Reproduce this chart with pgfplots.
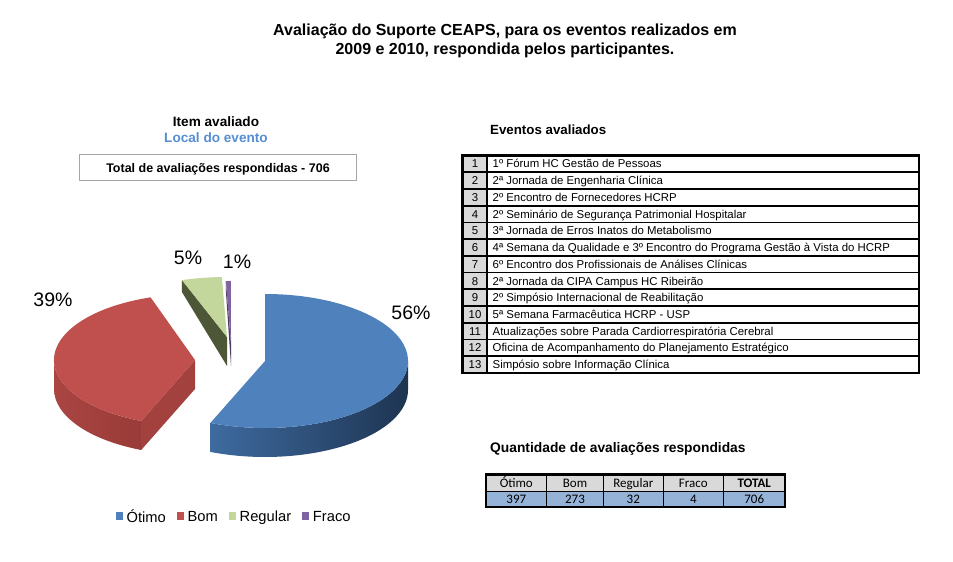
\documentclass[border=0pt]{standalone}
\usepackage{pgfplots}
\usepackage{pgfplotstable}
\usepackage{fontspec}
\pgfplotsset{compat=1.18}
\setmainfont{Liberation Sans}
\newfontfamily\calibri{Carlito}
\newcommand\fs[1]{\fontsize{#1}{#1}\selectfont}

\definecolor{otimo}{HTML}{4F81BD}
\definecolor{otimoL}{HTML}{3E6BA0}
\definecolor{otimoR}{HTML}{1E3451}
\definecolor{bom}{HTML}{C0504D}
\definecolor{bomL}{HTML}{AA4542}
\definecolor{bomR}{HTML}{8E3532}
\definecolor{bomCut}{HTML}{A3413E}
\definecolor{regular}{HTML}{C3D69B}
\definecolor{regularCut}{HTML}{4D5737}
\definecolor{fraco}{HTML}{8064A2}
\definecolor{fracoCut}{HTML}{4B3B61}
\definecolor{titleblue}{HTML}{558ED5}
\definecolor{cellgray}{HTML}{D9D9D9}
\definecolor{cellblue}{HTML}{95B3D7}

% respostas por conceito
\pgfplotstableread{
cat     value
Otimo   397
Bom     273
Regular 32
Fraco   4
}\avaliacoes

\pgfplotstablegetelem{0}{value}\of\avaliacoes \let\vA\pgfplotsretval
\pgfplotstablegetelem{1}{value}\of\avaliacoes \let\vB\pgfplotsretval
\pgfplotstablegetelem{2}{value}\of\avaliacoes \let\vC\pgfplotsretval
\pgfplotstablegetelem{3}{value}\of\avaliacoes \let\vD\pgfplotsretval
\pgfmathtruncatemacro\tot{\vA+\vB+\vC+\vD}
% angulos das fatias, sentido horario a partir de 12h
\pgfmathsetmacro\tA{90}
\pgfmathsetmacro\tB{\tA-\vA/\tot*360}
\pgfmathsetmacro\tC{\tB-\vB/\tot*360}
\pgfmathsetmacro\tD{\tC-\vC/\tot*360}
\pgfmathsetmacro\tE{\tD-\vD/\tot*360}

\begin{document}
\begin{tikzpicture}
\useasboundingbox (0pt,0pt) rectangle (953pt,562pt);
\begin{axis}[
    at={(0pt,0pt)}, anchor=south west,
    x=1pt, y=1pt,
    xmin=0, xmax=953, ymin=0, ymax=562,
    hide axis, clip=false,
    legend columns=-1,
    legend style={at={(axis cs:234,45)}, anchor=center, draw=none, fill=none,
        font=\fs{14.7}, inner sep=0pt,
        nodes={inner xsep=1.8pt},
        /tikz/every even column/.append style={column sep=9pt}},
    legend image code/.code={\fill[#1, draw=none] (0pt,-3pt) rectangle (7.5pt,4.5pt); \path (9pt,0pt);},
]
% Otimo
\shade[left color=otimoL, right color=otimoR] (axis cs:265,201) ++(0:143pt and 67pt)
    arc[start angle=0, end angle=\tB, x radius=143pt, y radius=67pt] -- ++(0pt,-29pt)
    arc[start angle=\tB, end angle=0, x radius=143pt, y radius=67pt] -- cycle;
\fill[otimo] (axis cs:265,201) -- ++(\tA:143pt and 67pt)
    arc[start angle=\tA, end angle=\tB, x radius=143pt, y radius=67pt] -- cycle;
% Bom
\shade[left color=bomL, right color=bomR] (axis cs:195,202) ++(\tB:141pt and 66pt)
    arc[start angle=\tB, end angle=-180, x radius=141pt, y radius=66pt] -- ++(0pt,-29pt)
    arc[start angle=-180, end angle=\tB, x radius=141pt, y radius=66pt] -- cycle;
\fill[bomCut] (axis cs:195,202) -- ++(\tB:141pt and 66pt) -- ++(0pt,-29pt) -- (axis cs:195,173) -- cycle;
\fill[bom] (axis cs:195,202) -- ++(\tB:141pt and 66pt)
    arc[start angle=\tB, end angle=\tC, x radius=141pt, y radius=66pt] -- cycle;
% Regular
\fill[regularCut] (axis cs:227,225) -- ++(\tC:143pt and 60pt) -- ++(0pt,-12pt) -- (axis cs:227,196) -- cycle;
\fill[regular] (axis cs:227,225) -- ++(\tC:143pt and 60pt)
    arc[start angle=\tC, end angle=\tD, x radius=143pt, y radius=60pt] -- cycle;
% Fraco
\fill[fracoCut] (axis cs:231,218) -- ++(\tD:143pt and 63pt) -- ++(0pt,-10pt) -- (axis cs:231,196) -- cycle;
\fill[fraco] (axis cs:231,218) -- ++(\tD:143pt and 63pt)
    arc[start angle=\tD, end angle=\tE, x radius=143pt, y radius=63pt] -- cycle;

\node[font=\fs{19.5}] at (axis cs:411,249) {56\%};
\node[font=\fs{19.5}] at (axis cs:53,262) {39\%};
\node[font=\fs{19.5}] at (axis cs:188,304) {5\%};
\node[font=\fs{19.5}] at (axis cs:237,300) {1\%};

\addlegendimage{fill=otimo}   \addlegendentry{Ótimo}
\addlegendimage{fill=bom}     \addlegendentry{Bom}
\addlegendimage{fill=regular} \addlegendentry{Regular}
\addlegendimage{fill=fraco}   \addlegendentry{Fraco}
\end{axis}

\begin{scope}[shift={(0pt,562pt)}, x=1pt, y=-1pt]
% titulos
\node[anchor=base, font=\fs{16}\bfseries] at (505,35.5) {Avaliação do Suporte CEAPS, para os eventos realizados em};
\node[anchor=base, font=\fs{16}\bfseries] at (505,54.5) {2009 e 2010, respondida pelos participantes.};
\node[anchor=base, font=\fs{13.6}\bfseries] at (216,126.7) {Item avaliado};
\node[anchor=base, font=\fs{13.6}\bfseries, text=titleblue] at (216,142.3) {Local do evento};
\draw[black!35, line width=0.8pt] (79.3,154.3) rectangle (356.7,180);
\node[anchor=base, font=\fs{12.5}\bfseries] at (218,173) {Total de avaliações respondidas - 706};

% eventos
\node[anchor=base west, inner sep=0pt, font=\fs{13.3}\bfseries] at (490,134.5) {Eventos avaliados};
\fill[cellgray] (462.5,155.5) rectangle (487,373);
\foreach \i in {1,...,12}
    \draw[line width=1.7pt] (462.5,155.5+\i*16.73) -- (919,155.5+\i*16.73);
\draw[line width=1.2pt] (487,155.5) -- (487,373);
\draw[line width=2.5pt] (462.5,155.5) rectangle (919,373);
\foreach \n/\t [count=\i] in {
    1/{1º Fórum HC Gestão de Pessoas},
    2/{2ª Jornada de Engenharia Clínica},
    3/{2º Encontro de Fornecedores HCRP},
    4/{2º Seminário de Segurança Patrimonial Hospitalar},
    5/{3ª Jornada de Erros Inatos do Metabolismo},
    6/{4ª Semana da Qualidade e 3º Encontro do Programa Gestão à Vista do HCRP},
    7/{6º Encontro dos Profissionais de Análises Clínicas},
    8/{2ª Jornada da CIPA Campus HC Ribeirão},
    9/{2º Simpósio Internacional de Reabilitação},
    10/{5ª Semana Farmacêutica HCRP - USP},
    11/{Atualizações sobre Parada Cardiorrespiratória Cerebral},
    12/{Oficina de Acompanhamento do Planejamento Estratégico},
    13/{Simpósio sobre Informação Clínica}} {
    \node[anchor=base, inner sep=0pt, font=\fs{11.4}] at (475,155.5+\i*16.73-8.37+4.1) {\n};
    \node[anchor=base west, inner sep=0pt, font=\fs{11.4}] at (492.5,155.5+\i*16.73-8.37+4.1) {\t};
}

% quantidades
\node[anchor=base west, inner sep=0pt, font=\fs{13.8}\bfseries] at (490,453) {Quantidade de avaliações respondidas};
\fill[cellgray] (486,474.5) rectangle (785,492);
\fill[cellblue] (486,492) rectangle (785,507);
\draw[line width=1pt] (486,492) -- (785,492);
\foreach \x in {546.7,603.3,663.3,723.3}
    \draw[line width=1pt] (\x,474.5) -- (\x,507);
\draw[line width=2.5pt] (486,474.5) rectangle (785,507);
\foreach \x/\h/\v in {516.3/Ótimo/\vA, 575/Bom/\vB, 633.3/Regular/\vC, 693.3/Fraco/\vD, 754.2/\textbf{TOTAL}/\tot} {
    \node[anchor=base, inner sep=0pt, font=\calibri\fs{13}] at (\x,487.5) {\h};
    \node[anchor=base, inner sep=0pt, font=\calibri\fs{13}] at (\x,504) {\v};
}
\end{scope}
\end{tikzpicture}
\end{document}
